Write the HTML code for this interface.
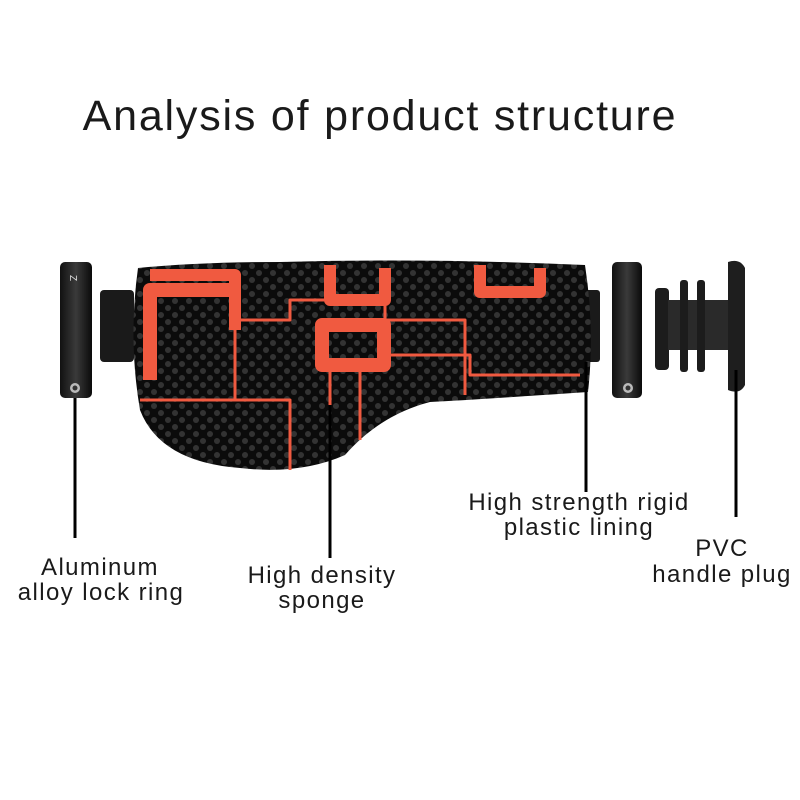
<!DOCTYPE html>
<html><head><style>
html,body{margin:0;padding:0;background:#fff;}
svg{display:block}
text{font-family:"Liberation Sans",Arial,sans-serif;fill:#1a1a1a}
</style></head><body>
<svg width="800" height="800" viewBox="0 0 800 800" xmlns="http://www.w3.org/2000/svg">
<defs>
<pattern id="dots" width="14" height="14" patternUnits="userSpaceOnUse">
<rect width="14" height="14" fill="#0b0b0b"/>
<circle cx="7" cy="7" r="3" fill="#333"/>
<circle cx="0" cy="0" r="3" fill="#333"/>
<circle cx="14" cy="0" r="3" fill="#333"/>
<circle cx="0" cy="14" r="3" fill="#333"/>
<circle cx="14" cy="14" r="3" fill="#333"/>
</pattern>
<linearGradient id="ring" x1="0" x2="1">
<stop offset="0" stop-color="#111"/><stop offset="0.5" stop-color="#3a3a3a"/><stop offset="1" stop-color="#0a0a0a"/>
</linearGradient>
</defs>
<text x="380" y="130" font-size="43" text-anchor="middle" letter-spacing="1.8">Analysis of product structure</text>

<rect x="100" y="290" width="34" height="72" rx="4" fill="#1a1a1a"/>
<rect x="572" y="290" width="28" height="72" rx="3" fill="#1a1a1a"/>

<path d="M138 268 Q200 262 280 262 Q430 258 585 265 Q595 330 588 392 Q470 400 430 402 Q380 415 345 455 Q300 475 240 468 Q160 462 140 410 Q128 340 138 268 Z" fill="url(#dots)"/>
<g fill="none" stroke="#f05a40" stroke-linejoin="round">
<path d="M150 380 V290 H230 V290" stroke-width="14"/>
<path d="M150 275 H235 V330" stroke-width="12"/>
<path d="M330 265 V300 H385 V268" stroke-width="12"/>
<path d="M480 265 V292 H540 V268" stroke-width="12"/>
<rect x="322" y="325" width="62" height="40" stroke-width="14"/>
<path d="M140 400 H290 V470" stroke-width="3"/>
<path d="M235 330 V400" stroke-width="3"/>
<path d="M235 320 H290 V300 H330" stroke-width="3"/>
<path d="M385 300 V320 H465 V395" stroke-width="3"/>
<path d="M384 355 H470 V375 H580" stroke-width="3"/>
<path d="M330 370 V460" stroke-width="3"/>
<path d="M360 370 V440" stroke-width="3"/>
</g>

<rect x="60" y="262" width="32" height="136" rx="5" fill="url(#ring)"/>
<text x="70" y="275" font-size="10" style="fill:#ddd" transform="rotate(90 70 275)">Z</text>
<circle cx="75" cy="388" r="5" fill="#bbb"/><circle cx="75" cy="388" r="2.5" fill="#333"/>
<rect x="612" y="262" width="30" height="136" rx="5" fill="url(#ring)"/>
<circle cx="628" cy="388" r="5" fill="#bbb"/><circle cx="628" cy="388" r="2.5" fill="#333"/>

<rect x="655" y="288" width="14" height="82" rx="4" fill="#1c1c1c"/>
<rect x="668" y="300" width="62" height="50" fill="#2a2a2a"/>
<rect x="680" y="280" width="8" height="92" rx="3" fill="#1c1c1c"/>
<rect x="697" y="280" width="8" height="92" rx="3" fill="#1c1c1c"/>
<path d="M728 262 Q740 258 745 268 V385 Q740 395 728 390 Z" fill="#1e1e1e"/>

<g stroke="#000" stroke-width="3">
<line x1="75" y1="398" x2="75" y2="538"/>
<line x1="330" y1="405" x2="330" y2="558"/>
<line x1="586" y1="362" x2="586" y2="492"/>
<line x1="736" y1="370" x2="736" y2="517"/>
</g>

<g font-size="24" text-anchor="middle" letter-spacing="1.4">
<text x="100" y="575">Aluminum</text>
<text x="101" y="600">alloy lock ring</text>
<text x="322" y="583">High density</text>
<text x="322" y="608">sponge</text>
<text x="579" y="510">High strength rigid</text>
<text x="579" y="535">plastic lining</text>
<text x="722" y="556">PVC</text>
<text x="722" y="582">handle plug</text>
</g>
</svg>
</body></html>
